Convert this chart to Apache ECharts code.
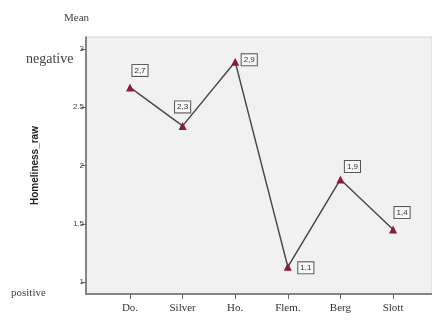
<!DOCTYPE html>
<html><head><meta charset="utf-8">
<script src="https://cdn.jsdelivr.net/npm/echarts@6/dist/echarts.min.js"></script>
<style>html,body{margin:0;padding:0;background:#fff}#c{width:432px;height:322px}</style>
</head><body><div id="c"></div>
<script>
var categories = ['Do.', 'Silver', 'Ho.', 'Flem.', 'Berg', 'Slott'];
var meanValues = [2.67, 2.34, 2.89, 1.13, 1.88, 1.45];
var valueLabels = ['2,7', '2,3', '2,9', '1,1', '1,9', '1,4'];
var yTicks = [1, 1.5, 2, 2.5, 3];
var yTickLabels = ['1', '1.5', '2', '2.5', '3'];
var labelOffsets = [[10, -17], [0, -19], [14, -2], [18, 1], [12, -13], [9, -17]];

var chart = echarts.init(document.getElementById('c'));
var idx = categories.map(function (_, i) { return i; });
chart.setOption({
  animation: false,
  grid: { left: 86, top: 37, right: 0, bottom: 28, show: true, backgroundColor: '#f1f1f1', borderColor: '#d4d4d4', borderWidth: 1 },
  xAxis: {
    type: 'value', min: -0.836, max: 5.74,
    axisLine: { show: true, onZero: false, lineStyle: { color: '#666', width: 1.5 } },
    axisTick: { show: true, length: 5, customValues: idx, lineStyle: { color: '#666' } },
    axisLabel: { customValues: idx, formatter: function (v) { return categories[Math.round(v)]; }, fontFamily: 'Liberation Serif', fontSize: 11, color: '#333', margin: 9 },
    splitLine: { show: false }
  },
  yAxis: {
    type: 'value', min: 0.897, max: 3.103,
    name: 'Homeliness_raw', nameLocation: 'middle', nameGap: 46, nameRotate: 90,
    nameTextStyle: { fontFamily: 'Liberation Sans', fontWeight: 'bold', fontSize: 10, color: '#222' },
    axisLine: { show: true, onZero: false, lineStyle: { color: '#666', width: 1.5 } },
    axisTick: { show: true, length: 5, customValues: yTicks, lineStyle: { color: '#666' } },
    axisLabel: { customValues: yTicks, formatter: function (v) { var i = yTicks.indexOf(v); return i >= 0 ? yTickLabels[i] : ''; }, fontFamily: 'Liberation Sans', fontSize: 8, color: '#444', margin: 2 },
    splitLine: { show: false }
  },
  graphic: [
    { type: 'text', left: 64, top: 13, style: { text: 'Mean', font: '11px "Liberation Serif"', fill: '#444' } },
    { type: 'text', left: 26, top: 52, style: { text: 'negative', font: '14px "Liberation Serif"', fill: '#444' } },
    { type: 'text', left: 11, top: 288, style: { text: 'positive', font: '11px "Liberation Serif"', fill: '#444' } }
  ],
  series: [{
    type: 'line',
    data: meanValues.map(function (v, i) {
      return {
        value: [i, v],
        label: { offset: labelOffsets[i] }
      };
    }),
    symbol: 'triangle', symbolSize: 8,
    itemStyle: { color: '#8a1a3c' },
    lineStyle: { color: '#4a4a4a', width: 1.5 },
    label: {
      show: true, position: 'inside',
      formatter: function (p) { return valueLabels[p.dataIndex]; },
      fontFamily: 'Liberation Sans', fontSize: 8, color: '#333',
      backgroundColor: '#f8f8f8', borderColor: '#555', borderWidth: 1,
      padding: [2, 2, 1, 2]
    }
  }]
});
</script></body></html>
